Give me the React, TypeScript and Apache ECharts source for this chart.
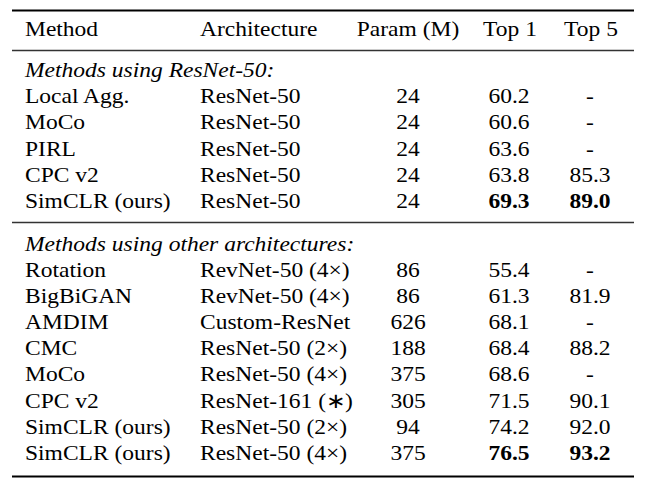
import React, { useEffect, useRef } from "react";
import * as echarts from "echarts";

const headers = ["Method", "Architecture", "Param (M)", "Top 1", "Top 5"];

const section1Title = "Methods using ResNet-50:";
const section1Methods = ["Local Agg.", "MoCo", "PIRL", "CPC v2", "SimCLR (ours)"];
const section1Archs = ["ResNet-50", "ResNet-50", "ResNet-50", "ResNet-50", "ResNet-50"];
const section1Params = [24, 24, 24, 24, 24];
const section1Top1 = [60.2, 60.6, 63.6, 63.8, 69.3];
const section1Top5: (number | null)[] = [null, null, null, 85.3, 89.0];

const section2Title = "Methods using other architectures:";
const section2Methods = ["Rotation", "BigBiGAN", "AMDIM", "CMC", "MoCo", "CPC v2", "SimCLR (ours)", "SimCLR (ours)"];
const section2Archs = [
  "RevNet-50 (4×)",
  "RevNet-50 (4×)",
  "Custom-ResNet",
  "ResNet-50 (2×)",
  "ResNet-50 (4×)",
  "ResNet-161 (∗)",
  "ResNet-50 (2×)",
  "ResNet-50 (4×)",
];
const section2Params = [86, 86, 626, 188, 375, 305, 94, 375];
const section2Top1 = [55.4, 61.3, 68.1, 68.4, 68.6, 71.5, 74.2, 76.5];
const section2Top5: (number | null)[] = [null, 81.9, null, 88.2, null, 90.1, 92.0, 93.2];

const FONT = "Liberation Serif";
const FS = 21;
const SX = 1.12;
const COLS = [
  { x: 25, align: "left" },
  { x: 200, align: "left" },
  { x: 408, align: "center" },
  { x: 509, align: "center" },
  { x: 590, align: "center" },
];
const LINE_L = 12;
const LINE_R = 634;
const ROW_H = 26.2;

function txt(s: string, x: number, y: number, align: string, opts: any = {}) {
  return {
    type: "text",
    x,
    y,
    scaleX: SX,
    style: {
      text: s,
      fill: "#000",
      fontFamily: FONT,
      fontSize: FS,
      fontWeight: opts.bold ? "bold" : "normal",
      fontStyle: opts.italic ? "italic" : "normal",
      textAlign: align,
      textVerticalAlign: "middle",
    },
  };
}

function rule(y: number, w: number, color: string) {
  return {
    type: "line",
    shape: { x1: LINE_L, y1: y, x2: LINE_R, y2: y },
    style: { stroke: color, lineWidth: w },
  };
}

function sectionRows(
  methods: string[],
  archs: string[],
  params: number[],
  top1: number[],
  top5: (number | null)[],
  y0: number
) {
  const els: any[] = [];
  const best1 = Math.max(...top1);
  const best5 = Math.max(...(top5.filter((v) => v != null) as number[]));
  methods.forEach((m, i) => {
    const y = y0 + i * ROW_H;
    const cells = [
      m,
      archs[i],
      String(params[i]),
      top1[i].toFixed(1),
      top5[i] == null ? "-" : (top5[i] as number).toFixed(1),
    ];
    const bolds = [false, false, false, top1[i] === best1, top5[i] === best5];
    cells.forEach((c, j) => {
      els.push(txt(c, COLS[j].x, y, COLS[j].align, { bold: bolds[j] }));
    });
  });
  return els;
}

export default function App() {
  const ref = useRef<HTMLDivElement>(null);
  useEffect(() => {
    if (!ref.current) return;
    const chart = echarts.init(ref.current, null, { renderer: "svg" });
    const elements: any[] = [];
    elements.push(rule(10.5, 2, "#000"));
    headers.forEach((h, j) => {
      elements.push(txt(h, COLS[j].x + (j >= 3 ? 1 : 0), 29, COLS[j].align));
    });
    elements.push(rule(50.5, 1.3, "#333"));
    elements.push(txt(section1Title, 25, 70, "left", { italic: true }));
    elements.push(...sectionRows(section1Methods, section1Archs, section1Params, section1Top1, section1Top5, 96.2));
    elements.push(rule(222.5, 1.3, "#333"));
    elements.push(txt(section2Title, 25, 243.5, "left", { italic: true }));
    elements.push(...sectionRows(section2Methods, section2Archs, section2Params, section2Top1, section2Top5, 269.5));
    elements.push(rule(476.5, 2, "#000"));
    chart.setOption({
      animation: false,
      backgroundColor: "#fff",
      graphic: { elements },
    });
    return () => chart.dispose();
  }, []);
  return (
    <div
      ref={ref}
      style={{ position: "absolute", left: 0, top: 0, width: 645, height: 487 }}
    />
  );
}
